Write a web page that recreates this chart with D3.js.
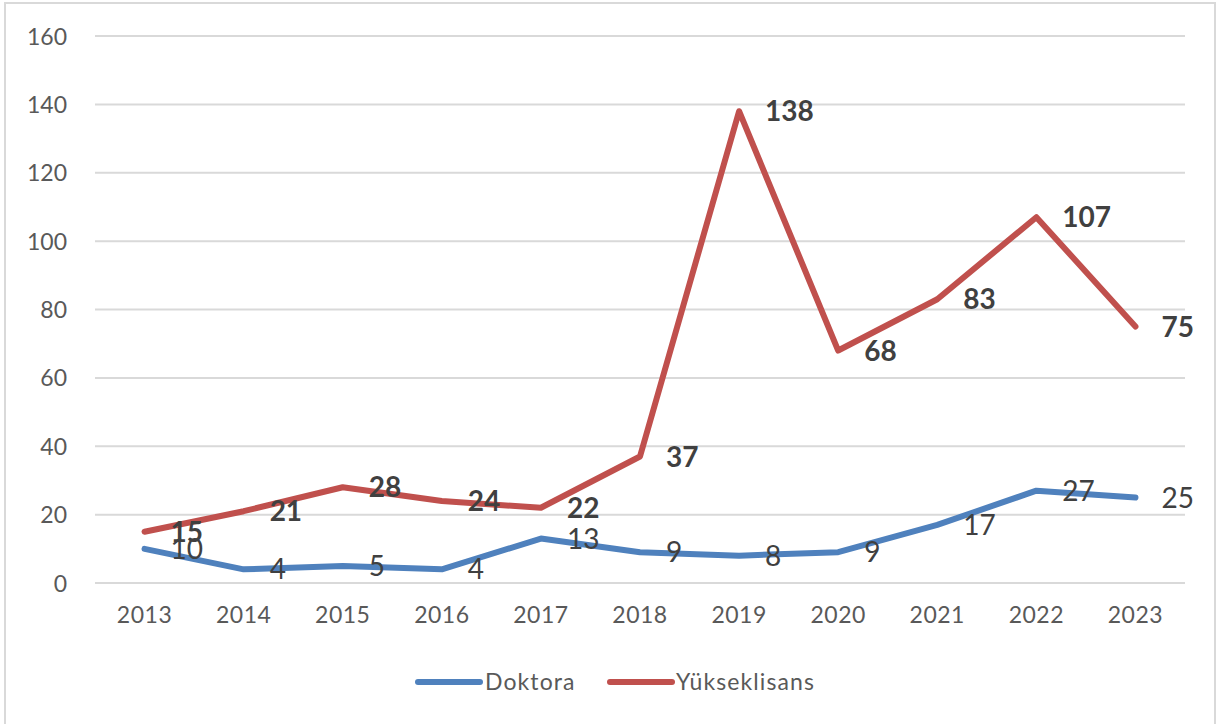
<!DOCTYPE html>
<html><head><meta charset="utf-8">
<script src="https://cdn.jsdelivr.net/npm/d3@7"></script>
<style>body{margin:0;background:#fff}svg{display:block;font-family:Lato,"Open Sans",sans-serif}</style>
</head><body>
<script>
const years = ["2013","2014","2015","2016","2017","2018","2019","2020","2021","2022","2023"];
const doktora = [10,4,5,4,13,9,8,9,17,27,25];
const yuksek = [15,21,28,24,22,37,138,68,83,107,75];
const yTicks = [0,20,40,60,80,100,120,140,160];
const seriesNames = ["Doktora","Yükseklisans"];
const colors = ["#4f81bd","#c0504d"];

const W=1219,H=724;
const svg=d3.select("body").append("svg").attr("width",W).attr("height",H);
svg.append("rect").attr("x",5).attr("y",3).attr("width",1210).attr("height",730)
  .attr("fill","#fff").attr("stroke","#d9d9d9").attr("stroke-width",2);

const x=d3.scaleBand().domain(years).range([95,1185]);
const y=d3.scaleLinear().domain([0,160]).range([583,36]);
const cx=d=>x(d)+x.bandwidth()/2;

svg.append("g").selectAll("line").data(yTicks).join("line")
  .attr("x1",95).attr("x2",1185).attr("y1",d=>y(d)).attr("y2",d=>y(d))
  .attr("stroke","#d9d9d9").attr("stroke-width",2);

const ya=svg.append("g").attr("transform","translate(95,0)")
  .call(d3.axisLeft(y).tickValues(yTicks).tickSize(0).tickPadding(28));
ya.select(".domain").remove();
ya.selectAll("text").attr("font-size",23).attr("fill","#595959").attr("font-family","Lato,sans-serif").attr("dy","0.35em");

const xa=svg.append("g").attr("transform","translate(0,583)")
  .call(d3.axisBottom(x).tickSize(0).tickPadding(24));
xa.select(".domain").remove();
xa.selectAll("text").attr("font-size",23).attr("fill","#595959").attr("font-family","Lato,sans-serif").attr("letter-spacing",0.5);

const data=[doktora,yuksek];
const line=d3.line().x((d,i)=>cx(years[i])).y(d=>y(d));
data.forEach((s,k)=>{
  svg.append("path").datum(s).attr("d",line).attr("fill","none")
    .attr("stroke",colors[k]).attr("stroke-width",6)
    .attr("stroke-linejoin","round").attr("stroke-linecap","round");
});
data.forEach((s,k)=>{
  svg.append("g").selectAll("text").data(s).join("text")
    .attr("x",(d,i)=>cx(years[i])+26).attr("y",d=>y(d)).attr("dy","0.36em")
    .attr("font-size",28).attr("font-weight",k===1?"bold":"normal")
    .attr("fill","#404040").text(d=>d);
});

const leg=[{x:418,tx:485},{x:610,tx:676}];
seriesNames.forEach((n,k)=>{
  svg.append("line").attr("x1",leg[k].x).attr("x2",leg[k].x+62).attr("y1",682).attr("y2",682)
    .attr("stroke",colors[k]).attr("stroke-width",6).attr("stroke-linecap","round");
  svg.append("text").attr("x",leg[k].tx).attr("y",682).attr("dy","0.35em")
    .attr("font-size",23).attr("letter-spacing",1.1).attr("fill","#595959").text(n);
});
</script>
</body></html>
